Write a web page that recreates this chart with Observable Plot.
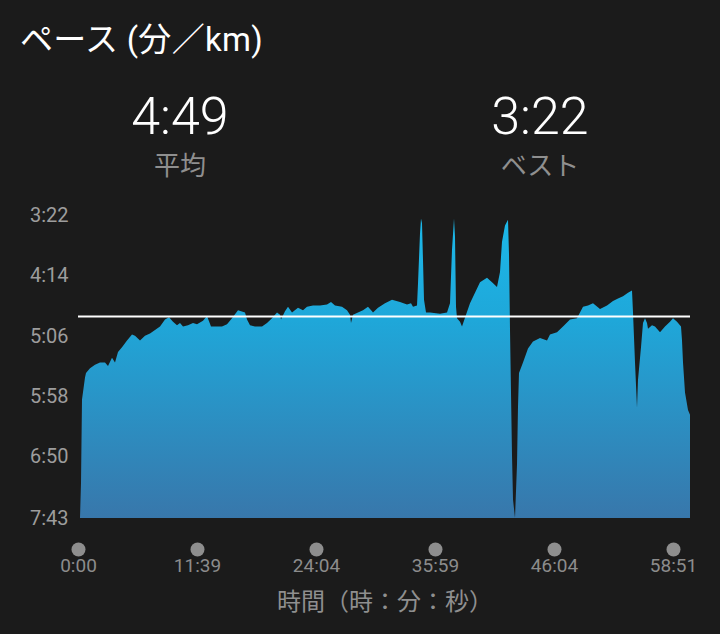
<!DOCTYPE html>
<html>
<head>
<meta charset="utf-8">
<script src="https://cdn.jsdelivr.net/npm/d3@7"></script>
<script src="https://cdn.jsdelivr.net/npm/@observablehq/plot@0.6"></script>
<style>
  html, body { margin: 0; padding: 0; background: #1b1b1b; }
  body { width: 720px; height: 634px; overflow: hidden; font-family: Roboto, "Noto Sans CJK JP", sans-serif; }
  #wrap { position: relative; width: 720px; height: 634px; }
  #header { position: relative; width: 720px; height: 195px; }
  .title { position: absolute; left: 20px; top: 13px; font-size: 33px; color: #ffffff; white-space: nowrap; letter-spacing: 0.3px; }
  .stat { position: absolute; width: 220px; text-align: center; }
  .stat .v { font-size: 52px; font-weight: 300; color: #ffffff; line-height: 52px; }
  .stat .l { font-size: 26px; color: #8f8f8f; line-height: 32px; margin-top: 7px; }
  #chart { display: block; height: 395px; }
  #xlabel { width: 720px; text-align: center; font-size: 24px; line-height: 28px; color: #8f8f8f; margin-top: -2px; padding-left: 50px; box-sizing: border-box; }
</style>
</head>
<body>
<div id="wrap">
  <div id="header">
    <div class="title">ペース (分／km)</div>
    <div class="stat" style="left:70px; top:91px;"><div class="v" id="avgV"></div><div class="l">平均</div></div>
    <div class="stat" style="left:430px; top:91px;"><div class="v" id="bestV"></div><div class="l">ベスト</div></div>
  </div>
  <div id="chart"></div>
  <div id="xlabel">時間（時：分：秒）</div>
</div>
<script>
// ---- data ----
const distanceKm = [
  0.04,0.06,0.08,0.14,0.16,0.24,0.34,0.44,0.54,0.60,0.68,0.74,0.80,0.88,0.98,1.08,1.14,1.24,1.34,1.44,
  1.54,1.64,1.74,1.82,1.90,1.98,2.04,2.10,2.20,2.30,2.38,2.50,2.58,2.66,2.78,2.88,2.98,3.08,3.20,3.34,
  3.38,3.44,3.54,3.68,3.78,3.88,3.98,4.04,4.06,4.14,4.20,4.28,4.40,4.50,4.58,4.70,4.84,4.98,5.06,5.14,
  5.28,5.38,5.44,5.46,5.50,5.60,5.70,5.80,5.88,5.90,6.00,6.14,6.28,6.44,6.58,6.66,6.70,6.78,6.80,6.84,
  6.86,6.88,6.90,6.92,6.96,7.04,7.24,7.38,7.44,7.48,7.52,7.54,7.56,7.58,7.64,7.68,7.76,7.84,7.94,8.04,
  8.18,8.28,8.38,8.44,8.48,8.54,8.60,8.62,8.64,8.68,8.70,8.74,8.78,8.80,8.82,8.90,9.00,9.10,9.24,9.38,
  9.44,9.58,9.70,9.84,9.98,10.10,10.20,10.30,10.44,10.58,10.70,10.80,10.90,11.00,11.08,11.10,11.14,11.18,11.20,11.26,
  11.30,11.34,11.38,11.40,11.48,11.54,11.64,11.74,11.84,11.90,11.98,12.06,12.08,12.10,12.14,12.20,12.24
];
const paceSec = [
  463,433,361,342,338,334,331,329,329,332,325,329,320,316,310,305,306,310,306,304,
  301,298,292,290,294,297,295,298,297,295,296,293,289,298,298,298,296,291,284,286,
  292,297,298,298,295,291,286,288,292,285,281,286,282,284,281,280,280,279,277,280,
  281,284,288,295,288,286,284,281,285,286,282,278,275,277,279,278,281,280,261,218,
  205,209,241,275,286,286,287,286,278,232,205,221,281,291,294,298,288,278,269,260,
  256,260,264,251,225,211,206,236,301,409,447,463,417,367,338,329,317,311,308,310,
  305,303,298,292,291,281,280,278,283,280,276,274,272,269,267,286,329,368,344,316,
  295,291,295,300,297,298,303,298,294,291,294,298,310,329,355,370,374
];
const xTickKm = [0, 2.38, 4.76, 7.14, 9.52, 11.9];
const xTickLabels = ["0:00", "11:39", "24:04", "35:59", "46:04", "58:51"];
const yTickSec = [202, 254, 306, 358, 410, 463];
const avgPaceSec = 289;
const bestPaceSec = 202;

// ---- helpers ----
const fmt = s => `${Math.floor(s / 60)}:${String(Math.round(s % 60)).padStart(2, "0")}`;
document.getElementById("avgV").textContent = fmt(avgPaceSec);
document.getElementById("bestV").textContent = fmt(bestPaceSec);

const data = distanceKm.map((km, i) => ({km, pace: paceSec[i]}));
const yMin = d3.min(yTickSec), yMax = d3.max(yTickSec);

const H = 395, MT = 20, MB = 72;
const plot = Plot.plot({
  width: 720,
  height: H,
  marginLeft: 78,
  marginRight: 30,
  marginTop: MT,
  marginBottom: MB,
  style: {background: "transparent", fontFamily: 'Roboto, "Noto Sans CJK JP", sans-serif', fontSize: "19px", color: "#9a9a9a"},
  x: {domain: [0, 12.24], axis: null},
  y: {domain: [yMin, yMax], reverse: true, axis: null},
  marks: [
    Plot.areaY(data, {x: "km", y1: () => yMax, y2: "pace", fill: "url(#paceGrad)", curve: "linear"}),
    Plot.ruleY([avgPaceSec], {stroke: "#ffffff", strokeWidth: 2}),
    Plot.axisY(yTickSec, {tickFormat: fmt, tickSize: 0, tickPadding: 10, fill: "#9d9d9d", fontSize: 20, label: null}),
    Plot.dot(xTickKm, {x: d => d, frameAnchor: "bottom", dy: 31, r: 7, fill: "#8e8e8e", stroke: null}),
    Plot.axisX(xTickKm, {tickFormat: d => xTickLabels[xTickKm.indexOf(d)], tickSize: 0, tickPadding: 40, fill: "#8c8c8c", fontSize: 19, label: null})
  ]
});

const svg = d3.select(plot);
const grad = svg.insert("defs", ":first-child")
  .append("linearGradient")
  .attr("id", "paceGrad")
  .attr("gradientUnits", "userSpaceOnUse")
  .attr("x1", 0).attr("x2", 0)
  .attr("y1", MT).attr("y2", H - MB);
grad.append("stop").attr("offset", "0%").attr("stop-color", "#1bb9ea");
grad.append("stop").attr("offset", "35%").attr("stop-color", "#1fa7d9");
grad.append("stop").attr("offset", "100%").attr("stop-color", "#3877ab");

document.getElementById("chart").appendChild(plot);
</script>
</body>
</html>
